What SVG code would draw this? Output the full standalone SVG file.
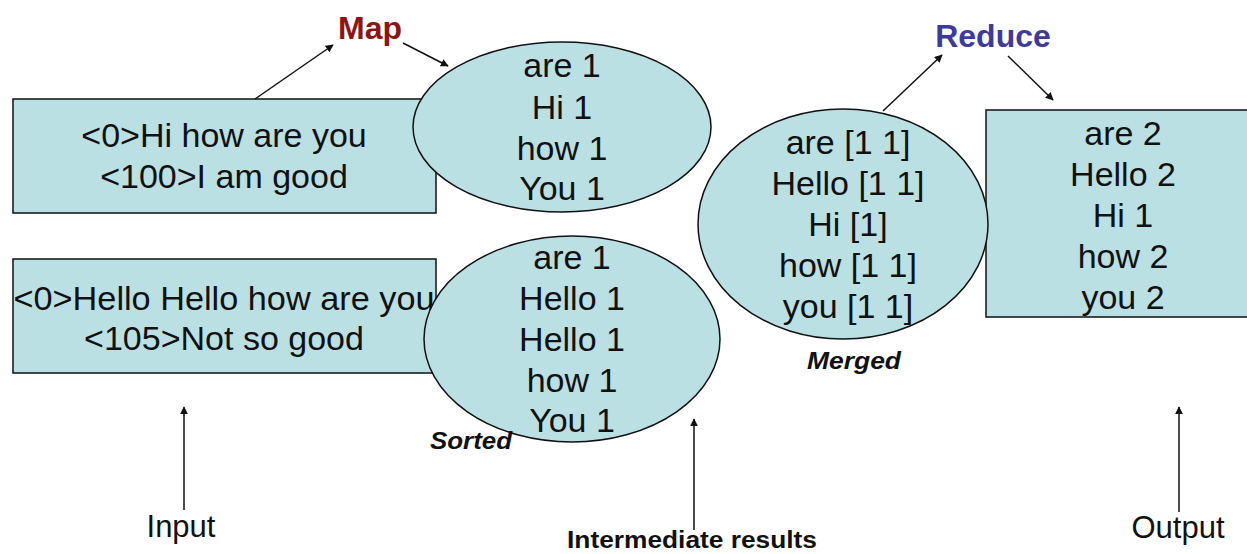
<svg xmlns="http://www.w3.org/2000/svg" width="1247" height="554" viewBox="0 0 1247 554">
<style>
.shape{fill:#bbe0e3;stroke:#111;stroke-width:1.5}
.t{font-family:"Liberation Sans",Arial,sans-serif;font-size:34px;fill:#111;text-anchor:middle}
.lbl{font-family:"Liberation Sans",Arial,sans-serif;font-size:31px;fill:#111;text-anchor:middle}
.it{font-family:"Liberation Sans",Arial,sans-serif;font-size:23px;font-weight:bold;font-style:italic;fill:#111;text-anchor:middle}
.op{font-family:"Liberation Sans",Arial,sans-serif;font-size:32px;font-weight:bold;text-anchor:middle}
.conn{stroke:#111;stroke-width:1.5;fill:none;marker-end:url(#ah)}
</style>
<defs>
<marker id="ah" viewBox="0 0 10 10" refX="9" refY="5" markerWidth="8" markerHeight="8" markerUnits="userSpaceOnUse" orient="auto">
<path d="M0,0 L10,5 L0,10 z" fill="#111"/>
</marker>
</defs>
<rect width="1247" height="554" fill="#fff"/>
<g id="box1">
<rect class="shape" x="13" y="99" width="423" height="114"/>
<text class="t" x="224" y="147">&lt;0&gt;Hi how are you</text>
<text class="t" x="224" y="188">&lt;100&gt;I am good</text>
</g>
<g id="box2">
<rect class="shape" x="13" y="259" width="423" height="114"/>
<text class="t" x="224" y="310" textLength="421" lengthAdjust="spacingAndGlyphs">&lt;0&gt;Hello Hello how are you</text>
<text class="t" x="224" y="350">&lt;105&gt;Not so good</text>
</g>
<g id="map-out1">
<ellipse class="shape" cx="562" cy="127" rx="149" ry="85"/>
<text class="t" x="562" y="77">are 1</text>
<text class="t" x="562" y="119">Hi 1</text>
<text class="t" x="562" y="160">how 1</text>
<text class="t" x="562" y="200">You 1</text>
</g>
<g id="map-out2">
<ellipse class="shape" cx="572" cy="339" rx="148" ry="103"/>
<text class="t" x="572" y="269">are 1</text>
<text class="t" x="572" y="310">Hello 1</text>
<text class="t" x="572" y="351">Hello 1</text>
<text class="t" x="572" y="392">how 1</text>
<text class="t" x="572" y="432">You 1</text>
<text class="it" x="471" y="449" textLength="82" lengthAdjust="spacingAndGlyphs">Sorted</text>
</g>
<g id="output-box">
<rect class="shape" x="986" y="110" width="262" height="207"/>
<text class="t" x="1123" y="145">are 2</text>
<text class="t" x="1123" y="186">Hello 2</text>
<text class="t" x="1123" y="227">Hi 1</text>
<text class="t" x="1123" y="268">how 2</text>
<text class="t" x="1123" y="309">you 2</text>
</g>
<g id="merged">
<ellipse class="shape" cx="843" cy="224" rx="145" ry="115"/>
<text class="t" x="848" y="154">are [1 1]</text>
<text class="t" x="848" y="195">Hello [1 1]</text>
<text class="t" x="848" y="236">Hi [1]</text>
<text class="t" x="848" y="277">how [1 1]</text>
<text class="t" x="848" y="318">you [1 1]</text>
<text class="it" x="854" y="369" textLength="94" lengthAdjust="spacingAndGlyphs">Merged</text>
</g>
<g id="map-label">
<text class="op" x="370" y="39" fill="#8e1414">Map</text>
</g>
<g id="reduce-label">
<text class="op" x="993" y="47" fill="#3d3a9c">Reduce</text>
</g>
<g id="input-label">
<text class="lbl" x="181" y="537">Input</text>
</g>
<g id="intermediate-label">
<text class="it" x="692" y="548" style="font-style:normal" textLength="250" lengthAdjust="spacingAndGlyphs">Intermediate results</text>
</g>
<g id="output-label">
<text class="lbl" x="1178" y="538">Output</text>
</g>
<g id="connectors">
<line class="conn" x1="255" y1="99" x2="333" y2="45"/>
<line class="conn" x1="403" y1="43" x2="448" y2="66"/>
<line class="conn" x1="883" y1="111" x2="942" y2="55"/>
<line class="conn" x1="1008" y1="56" x2="1053" y2="100"/>
<line class="conn" x1="184" y1="510" x2="184" y2="407"/>
<line class="conn" x1="694" y1="530" x2="694" y2="419"/>
<line class="conn" x1="1179" y1="512" x2="1179" y2="407"/>
</g>
</svg>
